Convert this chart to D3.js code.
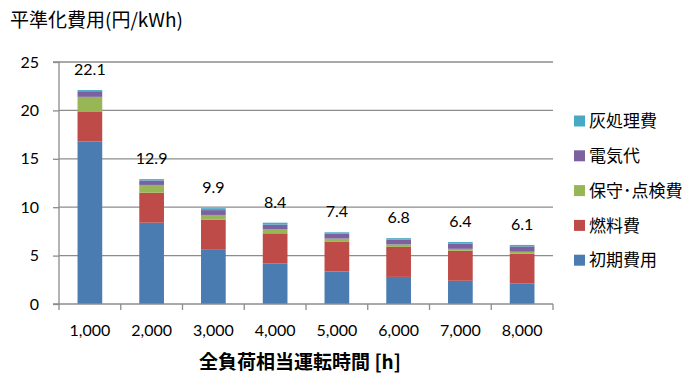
<!DOCTYPE html>
<html>
<head>
<meta charset="utf-8">
<script src="https://cdn.jsdelivr.net/npm/d3@7/dist/d3.min.js"></script>
<style>
  html, body { margin: 0; padding: 0; background: #fff; }
  svg { display: block; }
</style>
</head>
<body>
<svg id="chart" width="689" height="374"></svg>
<script>
// Operating hours (categories)
const categories = ["1,000", "2,000", "3,000", "4,000", "5,000", "6,000", "7,000", "8,000"];

// Levelized cost components (yen/kWh), bottom to top
const initialCost = [16.8, 8.4, 5.6, 4.2, 3.36, 2.8, 2.4, 2.1];
const fuelCost    = [3.1, 3.1, 3.1, 3.1, 3.1, 3.1, 3.1, 3.1];
const maintenance = [1.5, 0.8, 0.5, 0.4, 0.3, 0.25, 0.2, 0.2];
const electricity = [0.5, 0.45, 0.5, 0.5, 0.5, 0.5, 0.55, 0.55];
const ashDisposal = [0.2, 0.15, 0.2, 0.2, 0.15, 0.15, 0.15, 0.15];

// Totals shown above each bar
const totals = [22.1, 12.9, 9.9, 8.4, 7.4, 6.8, 6.4, 6.1];

const seriesNames = ["初期費用", "燃料費", "保守･点検費", "電気代", "灰処理費"];
const seriesValues = [initialCost, fuelCost, maintenance, electricity, ashDisposal];
const seriesColors = ["#4A7BB1", "#BE4B48", "#97B655", "#7C609F", "#47A9C3"];

const yTicks = [0, 5, 10, 15, 20, 25];

const latin = "Lato, 'Noto Sans', sans-serif";
const cjk = "'Noto Sans CJK JP', 'Noto Sans', sans-serif";

const svg = d3.select("#chart");
const margin = { left: 59, right: 136, top: 62, bottom: 70 };
const width = 689 - margin.left - margin.right;
const height = 374 - margin.top - margin.bottom;

const x = d3.scaleBand().domain(categories).range([0, width]).paddingInner(0.6).paddingOuter(0.3);
const y = d3.scaleLinear().domain([0, 25]).range([height, 0]);

const g = svg.append("g").attr("transform", `translate(${margin.left},${margin.top})`);

// Horizontal gridlines
g.append("g").selectAll("line").data(yTicks.filter(d => d > 0)).join("line")
  .attr("x1", 0).attr("x2", width)
  .attr("y1", d => y(d)).attr("y2", d => y(d))
  .attr("stroke", "#8c8c8c").attr("stroke-width", 1.3);

// Stacked data
const rows = categories.map((c, i) => {
  const r = { cat: c };
  seriesNames.forEach((n, k) => { r[n] = seriesValues[k][i]; });
  return r;
});
const stacked = d3.stack().keys(seriesNames)(rows);

g.append("g").selectAll("g").data(stacked).join("g")
  .attr("fill", (d, i) => seriesColors[i])
  .selectAll("rect").data(d => d).join("rect")
  .attr("x", d => x(d.data.cat))
  .attr("width", x.bandwidth())
  .attr("y", d => y(d[1]))
  .attr("height", d => y(d[0]) - y(d[1]));

// Y axis
const yAxis = g.append("g").call(d3.axisLeft(y).tickValues(yTicks).tickSize(6).tickPadding(14).tickFormat(d3.format("d")));
yAxis.select(".domain").attr("stroke", "#8c8c8c").attr("stroke-width", 1.3).attr("d", `M-6,0H0V${height}H-6`);
yAxis.selectAll(".tick line").attr("stroke", "#8c8c8c").attr("stroke-width", 1.3);
yAxis.selectAll(".tick text").attr("font-family", latin).attr("font-size", 16).attr("fill", "#000");

// X axis
const boundaries = d3.range(categories.length + 1).map(i => i * x.step());
const xg = g.append("g").attr("transform", `translate(0,${height})`);
xg.append("line").attr("x1", 0).attr("x2", width).attr("y1", 0).attr("y2", 0)
  .attr("stroke", "#8c8c8c").attr("stroke-width", 1.3);
xg.selectAll(".bt").data(boundaries).join("line").attr("class", "bt")
  .attr("x1", d => d).attr("x2", d => d).attr("y1", 0).attr("y2", 6)
  .attr("stroke", "#8c8c8c").attr("stroke-width", 1.3);
xg.selectAll("text").data(categories).join("text")
  .attr("x", d => x(d) + x.bandwidth() / 2)
  .attr("y", 26)
  .attr("dy", "0.35em")
  .attr("text-anchor", "middle")
  .attr("font-family", latin).attr("font-size", 16).attr("fill", "#000")
  .text(d => d);

// Totals above bars
g.append("g").selectAll("text").data(totals).join("text")
  .attr("x", (d, i) => x(categories[i]) + x.bandwidth() / 2)
  .attr("y", d => y(d) - 15)
  .attr("text-anchor", "middle")
  .attr("font-family", latin).attr("font-size", 16).attr("fill", "#000")
  .text(d => d3.format(".1f")(d));

// Title
svg.append("text").attr("x", 10).attr("y", 27)
  .attr("font-family", cjk).attr("font-size", 19).attr("fill", "#000")
  .text("平準化費用(円/kWh)");

// X axis title
svg.append("text").attr("x", 300).attr("y", 369)
  .attr("text-anchor", "middle")
  .attr("font-family", cjk).attr("font-size", 19).attr("font-weight", "bold").attr("fill", "#000")
  .text("全負荷相当運転時間 [h]");

// Legend (top entry is the top of the stack)
const legendOrder = seriesNames.map((n, i) => ({ name: n, color: seriesColors[i] })).reverse();
const lg = svg.append("g").attr("transform", "translate(574,121)");
const item = lg.selectAll("g").data(legendOrder).join("g")
  .attr("transform", (d, i) => `translate(0,${i * 34.8})`);
item.append("rect").attr("x", 0).attr("y", -5.5).attr("width", 11).attr("height", 11).attr("fill", d => d.color);
item.append("text").attr("x", 15).attr("y", 0).attr("dy", "0.36em")
  .attr("font-family", cjk).attr("font-size", 17).attr("fill", "#000")
  .text(d => d.name);
</script>
</body>
</html>
